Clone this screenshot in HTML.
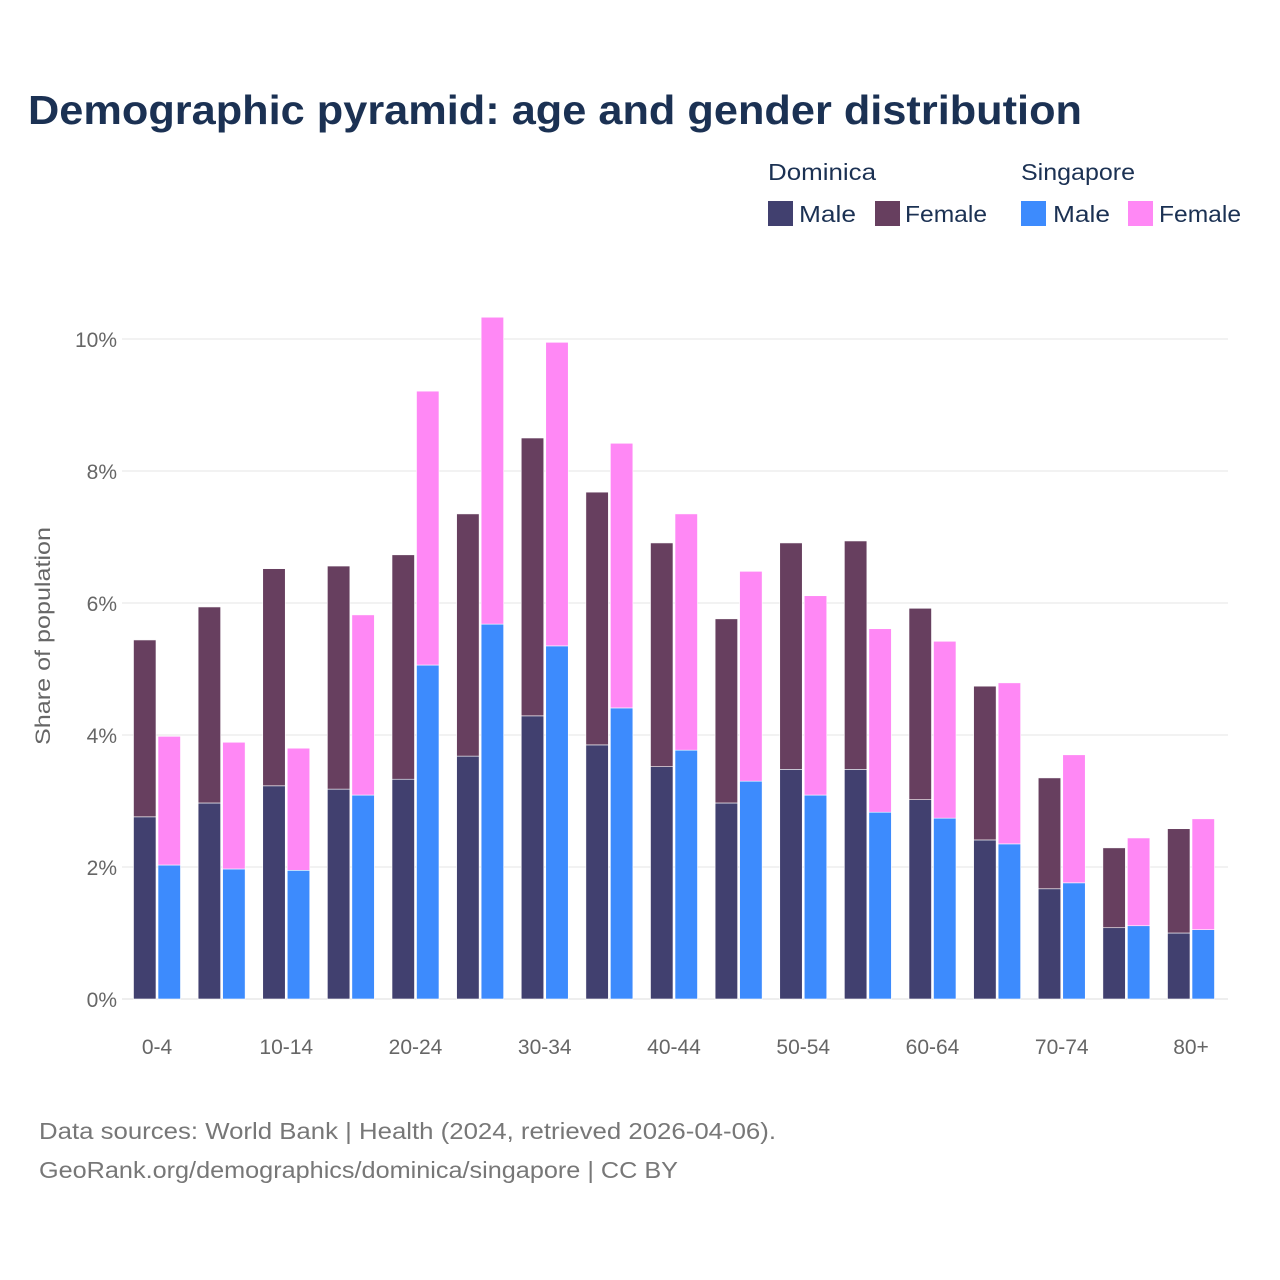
<!DOCTYPE html>
<html><head><meta charset="utf-8"><style>
body{margin:0;background:#fff;}
svg{display:block;font-family:"Liberation Sans",sans-serif;}
</style></head><body>
<svg id="chart" width="1280" height="1280" viewBox="0 0 1280 1280">
<text x="28" y="124" font-size="41" font-weight="bold" fill="#1b3153" textLength="1054" lengthAdjust="spacingAndGlyphs">Demographic pyramid: age and gender distribution</text>
<g>
<text x="768" y="180" font-size="23" fill="#1b3153" textLength="108" lengthAdjust="spacingAndGlyphs">Dominica</text>
<text x="1021" y="180" font-size="23" fill="#1b3153" textLength="114" lengthAdjust="spacingAndGlyphs">Singapore</text>
<rect x="768" y="201" width="25" height="25" fill="#41406f"/>
<text x="799" y="222" font-size="23" fill="#1b3153" textLength="57" lengthAdjust="spacingAndGlyphs">Male</text>
<rect x="875" y="201" width="25" height="25" fill="#673f5f"/>
<text x="905" y="222" font-size="23" fill="#1b3153" textLength="82" lengthAdjust="spacingAndGlyphs">Female</text>
<rect x="1021" y="201" width="25" height="25" fill="#3d8bfd"/>
<text x="1053" y="222" font-size="23" fill="#1b3153" textLength="57" lengthAdjust="spacingAndGlyphs">Male</text>
<rect x="1128" y="201" width="25" height="25" fill="#ff88f5"/>
<text x="1159" y="222" font-size="23" fill="#1b3153" textLength="82" lengthAdjust="spacingAndGlyphs">Female</text>
</g>
<g id="grid"></g>
<g id="bars"></g>
<g id="xlabels"></g>
<text transform="translate(50,636) rotate(-90)" text-anchor="middle" font-size="21" fill="#666" textLength="218" lengthAdjust="spacingAndGlyphs">Share of population</text>
<text x="39" y="1139" font-size="23" fill="#777" textLength="737" lengthAdjust="spacingAndGlyphs">Data sources: World Bank | Health (2024, retrieved 2026-04-06).</text>
<text x="39" y="1178" font-size="23" fill="#777" textLength="639" lengthAdjust="spacingAndGlyphs">GeoRank.org/demographics/dominica/singapore | CC BY</text>
</svg>
<script>
const categories=["0-4","5-9","10-14","15-19","20-24","25-29","30-34","35-39","40-44","45-49","50-54","55-59","60-64","65-69","70-74","75-79","80+"];
const domMale=[2.76,2.97,3.23,3.18,3.33,3.68,4.29,3.85,3.52,2.97,3.48,3.48,3.02,2.41,1.67,1.08,1.0];
const domFemale=[2.68,2.97,3.29,3.38,3.40,3.67,4.21,3.83,3.39,2.79,3.43,3.46,2.90,2.33,1.68,1.21,1.58];
const sgMale=[2.03,1.97,1.95,3.09,5.06,5.68,5.35,4.41,3.77,3.30,3.09,2.83,2.74,2.35,1.76,1.11,1.05];
const sgFemale=[1.95,1.92,1.85,2.73,4.15,4.65,4.60,4.01,3.58,3.18,3.02,2.78,2.68,2.44,1.94,1.33,1.68];
const yTicks=[0,2,4,6,8,10];
const NS="http://www.w3.org/2000/svg";
const y=v=>999-v*66;
const xc=i=>157+i*64.625;
function mk(tag,attrs,parent){const e=document.createElementNS(NS,tag);for(const k in attrs)e.setAttribute(k,attrs[k]);parent.appendChild(e);return e;}
const grid=document.getElementById('grid'),bars=document.getElementById('bars'),xl=document.getElementById('xlabels');
yTicks.forEach(t=>{
 const l=mk('line',{x1:122,x2:1228,y1:y(t),y2:y(t),stroke:t===0?'#ddd':'#e6e6e6','stroke-width':1},grid);
 
 
 const tx=mk('text',{x:117,y:y(t)+8,'text-anchor':'end','font-size':21,fill:'#666'},grid);
 tx.textContent=t+'%';
 
 
});
function bar(x,v0,v1,color,name){
 const r=mk('rect',{x:x,y:y(v1),width:22.5,height:y(v0)-y(v1),fill:color,stroke:'#fff','stroke-width':0.6},bars);
 
 
}
categories.forEach((c,i)=>{
 const cx=xc(i);
 bar(cx-23.5,0,domMale[i],'#41406f','bar-dominica-male-'+c);
 bar(cx-23.5,domMale[i],domMale[i]+domFemale[i],'#673f5f','bar-dominica-female-'+c);
 bar(cx+1,0,sgMale[i],'#3d8bfd','bar-singapore-male-'+c);
 bar(cx+1,sgMale[i],sgMale[i]+sgFemale[i],'#ff88f5','bar-singapore-female-'+c);
 if(i%2===0){
  const t=mk('text',{x:cx,y:1054,'text-anchor':'middle','font-size':21,fill:'#666'},xl);
  t.textContent=c;
  
  
 }
});
</script>
</body></html>
